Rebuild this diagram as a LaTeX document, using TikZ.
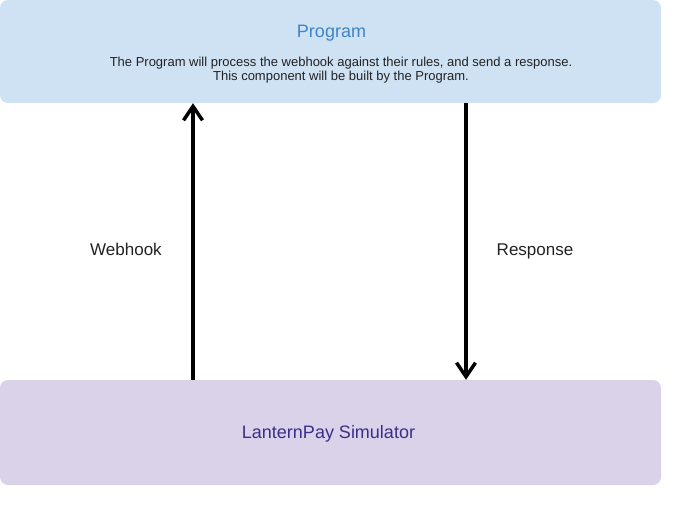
\documentclass[tikz,border=0pt]{standalone}
\usepackage{fontspec}
\setmainfont{Liberation Sans}
\usepackage{xcolor}
\usepackage{tikz}
\usetikzlibrary{arrows.meta, positioning}
\definecolor{progfill}{HTML}{CFE2F3}
\definecolor{progtitle}{HTML}{3D85C6}
\definecolor{simfill}{HTML}{D9D2E9}
\definecolor{simtext}{HTML}{3B2E8A}
\definecolor{labeltext}{HTML}{222222}
\tikzstyle{prog} = [rectangle, rounded corners = 8pt, minimum width = 661pt, minimum height = 103pt, draw = none, fill = progfill]
\tikzstyle{sim} = [rectangle, rounded corners = 8pt, minimum width = 661pt, minimum height = 105pt, draw = none, fill = simfill]
\tikzstyle{titletext} = [inner sep = 0pt, anchor = base, font = \fontsize{18pt}{21pt}\selectfont]
\tikzstyle{desc} = [inner sep = 0pt, anchor = base, align = center, text = labeltext, font = \fontsize{13pt}{14pt}\selectfont]
\tikzstyle{edgetext} = [inner sep = 0pt, anchor = base, text = labeltext, font = \fontsize{17pt}{20pt}\selectfont]
\tikzstyle{flow} = [line width = 3.5pt, -{Straight Barb[length = 14pt, width = 19pt, line width = 3.5pt]}]

\begin{document}
\begin{tikzpicture}
	\useasboundingbox (0pt,0pt) rectangle (680pt,-504pt);
	\node (program)[prog] at (330.5pt,-51.5pt) {};
	\node (progname)[titletext, text = progtitle] at ([xshift = 1pt, yshift = -38pt]program.north) {Program};
	\node (progdesc)[desc] at ([xshift = 10.5pt, yshift = -81pt]program.north) {The Program will process the webhook against their rules, and send a response.\\This component will be built by the Program.};
	\node (simulator)[sim] at (330.5pt,-432.5pt) {};
	\node (simname)[titletext, text = simtext] at ([xshift = -2pt, yshift = -59pt]simulator.north) {LanternPay Simulator};
	\node (webhook)[edgetext] at (126pt,-255pt) {Webhook};
	\node (response)[edgetext] at (535pt,-255pt) {Response};

	\draw [flow] ([xshift = -137.5pt]simulator.north) -- ([xshift = -137.5pt]program.south);
	\draw [flow] ([xshift = 135.5pt]program.south) -- ([xshift = 135.5pt]simulator.north);
\end{tikzpicture}
\end{document}
